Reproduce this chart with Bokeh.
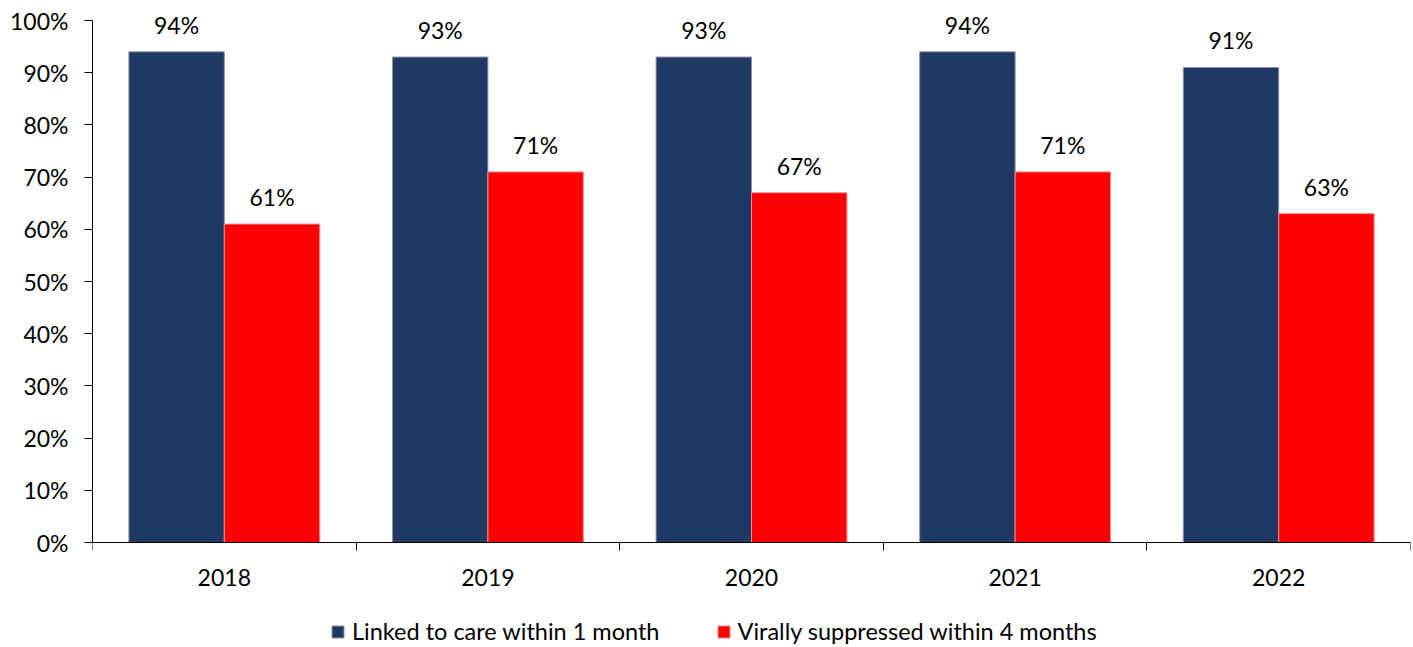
from bokeh.plotting import figure
from bokeh.models import (ColumnDataSource, FixedTicker, Legend, LegendItem,
                          Range1d, NumeralTickFormatter)
from bokeh.core.properties import value
from bokeh.embed import file_html
from bokeh.resources import INLINE

years = ["2018", "2019", "2020", "2021", "2022"]
linked_to_care = [94, 93, 93, 94, 91]
virally_suppressed = [61, 71, 67, 71, 63]
series_names = ["Linked to care within 1 month", "Virally suppressed within 4 months"]
y_ticks = [0, 10, 20, 30, 40, 50, 60, 70, 80, 90, 100]

NAVY = "#203864"
RED = "#FF0000"
FONT = "Lato"
BAR_W = 0.362

# vertical scale: 100% sits 20px below the top edge, 0% sits 105px above the bottom
PX_PER_UNIT = 5.22
Y_LO = -105 / PX_PER_UNIT
Y_HI = 100 + 20 / PX_PER_UNIT

centers = [i + 0.5 for i in range(len(years))]
src_a = ColumnDataSource(dict(x=[c - BAR_W / 2 for c in centers], top=linked_to_care,
                              label=[f"{v}%" for v in linked_to_care]))
src_b = ColumnDataSource(dict(x=[c + BAR_W / 2 for c in centers], top=virally_suppressed,
                              label=[f"{v}%" for v in virally_suppressed]))

p = figure(width=1413, height=647, output_backend="svg", toolbar_location=None,
           x_range=Range1d(0, len(years)), y_range=Range1d(Y_LO, Y_HI),
           min_border_left=92, min_border_right=3, min_border_top=0, min_border_bottom=0)
p.outline_line_color = None
p.grid.grid_line_color = None
p.background_fill_color = "white"
p.border_fill_color = "white"

bar_a = p.vbar(x="x", top="top", bottom=0, width=BAR_W, source=src_a, fill_color=NAVY,
               line_color="#8C96A8", line_width=1)
bar_b = p.vbar(x="x", top="top", bottom=0, width=BAR_W, source=src_b, fill_color=RED,
               line_color="#F28C8C", line_width=1)

for src in (src_a, src_b):
    p.text(x="x", y="top", text="label", source=src, text_align="center",
           text_baseline="alphabetic", y_offset=-27, text_font=value(FONT),
           text_font_size="23px", text_color="black")

# y axis: percentages with outward ticks, line spanning 0-100% only
yax = p.yaxis[0]
yax.ticker = FixedTicker(ticks=y_ticks)
yax.bounds = (0, 100)
yax.formatter = NumeralTickFormatter(format="0")
yax.major_label_overrides = {t: f"{t}%" for t in y_ticks}
yax.major_tick_in = 0
yax.major_tick_out = 8
yax.minor_tick_out = 0
yax.minor_tick_in = 0
yax.major_label_standoff = 16
yax.major_label_text_font = FONT
yax.major_label_text_font_size = "23px"
yax.major_label_text_color = "black"
yax.axis_line_color = "black"
yax.major_tick_line_color = "black"

# x axis at the 0% line: year labels at group centres, ticks at group boundaries
xax = p.xaxis[0]
xax.fixed_location = 0
xax.ticker = FixedTicker(ticks=centers, minor_ticks=list(range(len(years) + 1)))
xax.major_label_overrides = {c: y for c, y in zip(centers, years)}
xax.major_tick_in = 0
xax.major_tick_out = 0
xax.minor_tick_in = 0
xax.minor_tick_out = 8
xax.minor_tick_line_color = "black"
xax.major_label_standoff = 18
xax.major_label_text_font = FONT
xax.major_label_text_font_size = "23px"
xax.major_label_text_color = "black"
xax.axis_line_color = "black"

legend = Legend(items=[LegendItem(label=series_names[0], renderers=[bar_a]),
                       LegendItem(label=series_names[1], renderers=[bar_b])],
                orientation="horizontal", location=(238, 2),
                glyph_width=15, glyph_height=15, label_standoff=7, spacing=56,
                label_text_font=FONT, label_text_font_size="23.5px",
                label_text_color="black", border_line_color=None,
                background_fill_alpha=0, padding=0, margin=0)
p.add_layout(legend, "center")

open("out.html", "w").write(file_html(p, INLINE))
